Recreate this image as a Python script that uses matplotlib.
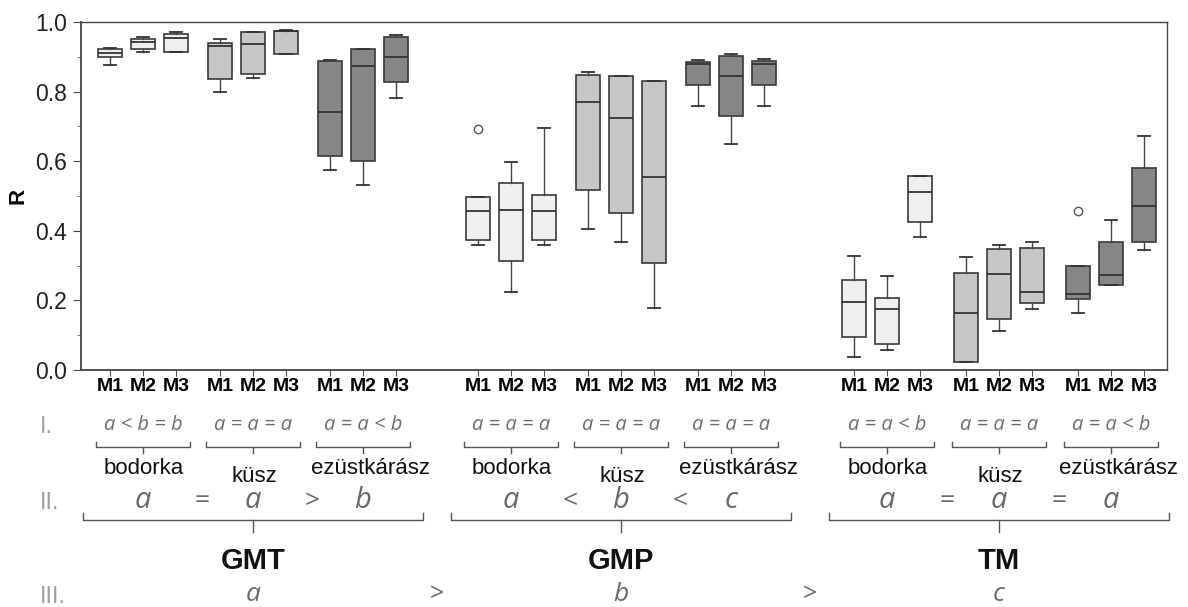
import matplotlib
matplotlib.use("Agg")
import matplotlib.pyplot as plt
import matplotlib.transforms as mtransforms
from matplotlib.ticker import MultipleLocator

# ---------------- data ----------------
categories = ["GMT", "GMP", "TM"]
species = ["bodorka", "küsz", "ezüstkárász"]
methods = ["M1", "M2", "M3"]

# order inside each category: bodorka M1-M3, küsz M1-M3, ezüstkárász M1-M3
GMT_whishi = [0.926, 0.957, 0.971, 0.950, 0.972, 0.977, 0.891, 0.921, 0.962]
GMT_q3     = [0.923, 0.950, 0.966, 0.940, 0.971, 0.974, 0.889, 0.921, 0.957]
GMT_med    = [0.911, 0.942, 0.954, 0.932, 0.937, 0.973, 0.741, 0.873, 0.899]
GMT_q1     = [0.899, 0.921, 0.914, 0.835, 0.850, 0.909, 0.614, 0.600, 0.828]
GMT_whislo = [0.877, 0.914, 0.914, 0.800, 0.839, 0.909, 0.575, 0.533, 0.782]

GMP_whishi = [0.496, 0.597, 0.694, 0.856, 0.846, 0.830, 0.891, 0.909, 0.893]
GMP_q3     = [0.496, 0.537, 0.504, 0.847, 0.845, 0.830, 0.886, 0.902, 0.888]
GMP_med    = [0.456, 0.461, 0.456, 0.770, 0.723, 0.554, 0.878, 0.845, 0.878]
GMP_q1     = [0.374, 0.312, 0.374, 0.518, 0.451, 0.307, 0.819, 0.731, 0.819]
GMP_whislo = [0.360, 0.223, 0.360, 0.405, 0.369, 0.178, 0.758, 0.648, 0.758]

TM_whishi = [0.329, 0.269, 0.557, 0.326, 0.360, 0.368, 0.300, 0.432, 0.672]
TM_q3     = [0.259, 0.208, 0.557, 0.280, 0.347, 0.352, 0.300, 0.367, 0.581]
TM_med    = [0.194, 0.176, 0.511, 0.165, 0.275, 0.224, 0.218, 0.272, 0.470]
TM_q1     = [0.096, 0.074, 0.425, 0.024, 0.146, 0.192, 0.203, 0.245, 0.369]
TM_whislo = [0.038, 0.058, 0.381, 0.024, 0.112, 0.176, 0.163, 0.245, 0.345]

# outliers: box index inside category -> values
GMT_fliers = {}
GMP_fliers = {0: [0.693]}
TM_fliers = {6: [0.458]}

# annotation texts
rowI_GMT = ["a < b = b", "a = a = a", "a = a < b"]
rowI_GMP = ["a = a = a", "a = a = a", "a = a = a"]
rowI_TM  = ["a = a < b", "a = a = a", "a = a < b"]
rowII_GMT_letters = ["a", "a", "b"]
rowII_GMT_ops = ["=", ">"]
rowII_GMP_letters = ["a", "b", "c"]
rowII_GMP_ops = ["<", "<"]
rowII_TM_letters = ["a", "a", "a"]
rowII_TM_ops = ["=", "="]
rowIII_letters = ["a", "b", "c"]
rowIII_ops = [">", ">"]
roman = ["I.", "II.", "III."]

# ---------------- layout ----------------
W, H = 1188, 607
cat_x0 = [110, 478, 854]
sp_step = [110, 110, 112]
m_step = 33
box_w = 24
sp_colors = ["#efefef", "#c6c6c6", "#868686"]

stats_by_cat = {
    "GMT": (GMT_whislo, GMT_q1, GMT_med, GMT_q3, GMT_whishi, GMT_fliers),
    "GMP": (GMP_whislo, GMP_q1, GMP_med, GMP_q3, GMP_whishi, GMP_fliers),
    "TM": (TM_whislo, TM_q1, TM_med, TM_q3, TM_whishi, TM_fliers),
}
rowI = {"GMT": rowI_GMT, "GMP": rowI_GMP, "TM": rowI_TM}
rowII = {"GMT": (rowII_GMT_letters, rowII_GMT_ops),
         "GMP": (rowII_GMP_letters, rowII_GMP_ops),
         "TM": (rowII_TM_letters, rowII_TM_ops)}

fig = plt.figure(figsize=(W / 100, H / 100), dpi=100)
ax = fig.add_axes([81 / W, 1 - 370 / H, (1167 - 81) / W, (370 - 22) / H])
ax.set_xlim(81, 1167)
ax.set_ylim(0, 1.0)

tick_pos, tick_lab = [], []
sp_centers = {}
for ci, cat in enumerate(categories):
    lo, q1, med, q3, hi, fl = stats_by_cat[cat]
    centers = []
    for si, sp in enumerate(species):
        pos, bstats = [], []
        for mi, m in enumerate(methods):
            k = si * 3 + mi
            x = cat_x0[ci] + si * sp_step[ci] + mi * m_step
            pos.append(x)
            tick_pos.append(x)
            tick_lab.append(m)
            bstats.append(dict(whislo=lo[k], q1=q1[k], med=med[k], q3=q3[k],
                               whishi=hi[k], fliers=fl.get(k, [])))
        centers.append(pos[1])
        ax.bxp(bstats, positions=pos, widths=box_w, patch_artist=True,
               manage_ticks=False, capwidths=12,
               boxprops=dict(facecolor=sp_colors[si], edgecolor="#3a3a3a", linewidth=1.2),
               medianprops=dict(color="#333333", linewidth=1.3),
               whiskerprops=dict(color="#444444", linewidth=1.0),
               capprops=dict(color="#333333", linewidth=1.3),
               flierprops=dict(marker="o", markerfacecolor="none",
                               markeredgecolor="#555555", markersize=6, markeredgewidth=1.0))
    sp_centers[cat] = centers

ax.set_xticks(tick_pos)
ax.set_xticklabels(tick_lab, fontsize=14, fontweight="bold", family="Liberation Sans")
ax.tick_params(axis="x", length=4, pad=2, color="#555555")
ax.set_yticks([0, 0.2, 0.4, 0.6, 0.8, 1.0])
ax.yaxis.set_minor_locator(MultipleLocator(0.1))
ax.set_yticklabels(["0.0", "0.2", "0.4", "0.6", "0.8", "1.0"], fontsize=16.5,
                   family="Liberation Sans", color="#222222")
ax.tick_params(axis="y", which="major", length=6, pad=4, color="#444444")
ax.tick_params(axis="y", which="minor", length=3, color="#666666")
ax.set_ylabel("R", fontsize=16, fontweight="bold", family="Liberation Sans")
ax.yaxis.set_label_coords(-0.048, 0.5)
for s in ax.spines.values():
    s.set_color("#444444")
    s.set_linewidth(1.0)
ax.spines["left"].set_linewidth(1.3)
ax.spines["bottom"].set_linewidth(1.3)

# ---------------- annotations below the axis ----------------
trans = mtransforms.blended_transform_factory(ax.transData, fig.transFigure)


def fy(py):
    return 1 - py / H


it_font = dict(family="Open Sans", style="italic")
roman_color = "#a0a0a0"
formula_color = "#6e6e6e"
letter_color = "#6a6a6a"
brace_color = "#555555"

for txt, py in zip(roman, [427, 503, 597]):
    fig.text(40 / W, fy(py), txt, fontsize=17, color=roman_color,
             family="Liberation Sans", ha="left", va="center")


def brace(x0, x1, y, up, down, xc=None, lw=1.0):
    if xc is None:
        xc = (x0 + x1) / 2
    ax.plot([x0, x0, x1, x1], [fy(y - up), fy(y), fy(y), fy(y - up)],
            transform=trans, clip_on=False, color=brace_color, lw=lw)
    ax.plot([xc, xc], [fy(y), fy(y + down)], transform=trans, clip_on=False,
            color=brace_color, lw=lw)


cat_centers = []
for ci, cat in enumerate(categories):
    centers = sp_centers[cat]
    for si, sp in enumerate(species):
        xc = centers[si]
        ax.text(xc, fy(425), rowI[cat][si], transform=trans, ha="center", va="center",
                fontsize=14.5, color=formula_color, **it_font)
        brace(xc - 47, xc + 47, 447, 5, 6, xc=xc)
        yname = 476 if sp == "küsz" else 468
        dx = 7 if sp == "ezüstkárász" else 1
        ax.text(xc + dx, fy(yname), sp, transform=trans, ha="center", va="center",
                fontsize=16, color="#111111", family="Liberation Sans")
    letters, ops = rowII[cat]
    for si in range(3):
        ax.text(centers[si], fy(500), letters[si], transform=trans, ha="center",
                va="center", fontsize=21, color=letter_color, **it_font)
    for oi in range(2):
        xm = (centers[oi] + centers[oi + 1]) / 2 + 4
        ax.text(xm, fy(502), ops[oi], transform=trans, ha="center", va="center",
                fontsize=19, color=letter_color, family="Open Sans")
    ccen = centers[1]
    cat_centers.append(ccen)
    half = 170
    brace(ccen - half, ccen + half, 520, 7, 12, xc=ccen)
    ax.text(ccen, fy(561), cat, transform=trans, ha="center", va="center",
            fontsize=21, fontweight="bold", color="#111111", family="Liberation Sans")
    ax.text(ccen, fy(601), rowIII_letters[ci], transform=trans, ha="center",
            va="baseline", fontsize=19, color=letter_color, **it_font)

for oi in range(2):
    xm = (cat_centers[oi] + cat_centers[oi + 1]) / 2
    ax.text(xm, fy(601), rowIII_ops[oi], transform=trans, ha="center", va="baseline",
            fontsize=18, color=letter_color, family="Open Sans")

fig.savefig("out.png", dpi=100)
